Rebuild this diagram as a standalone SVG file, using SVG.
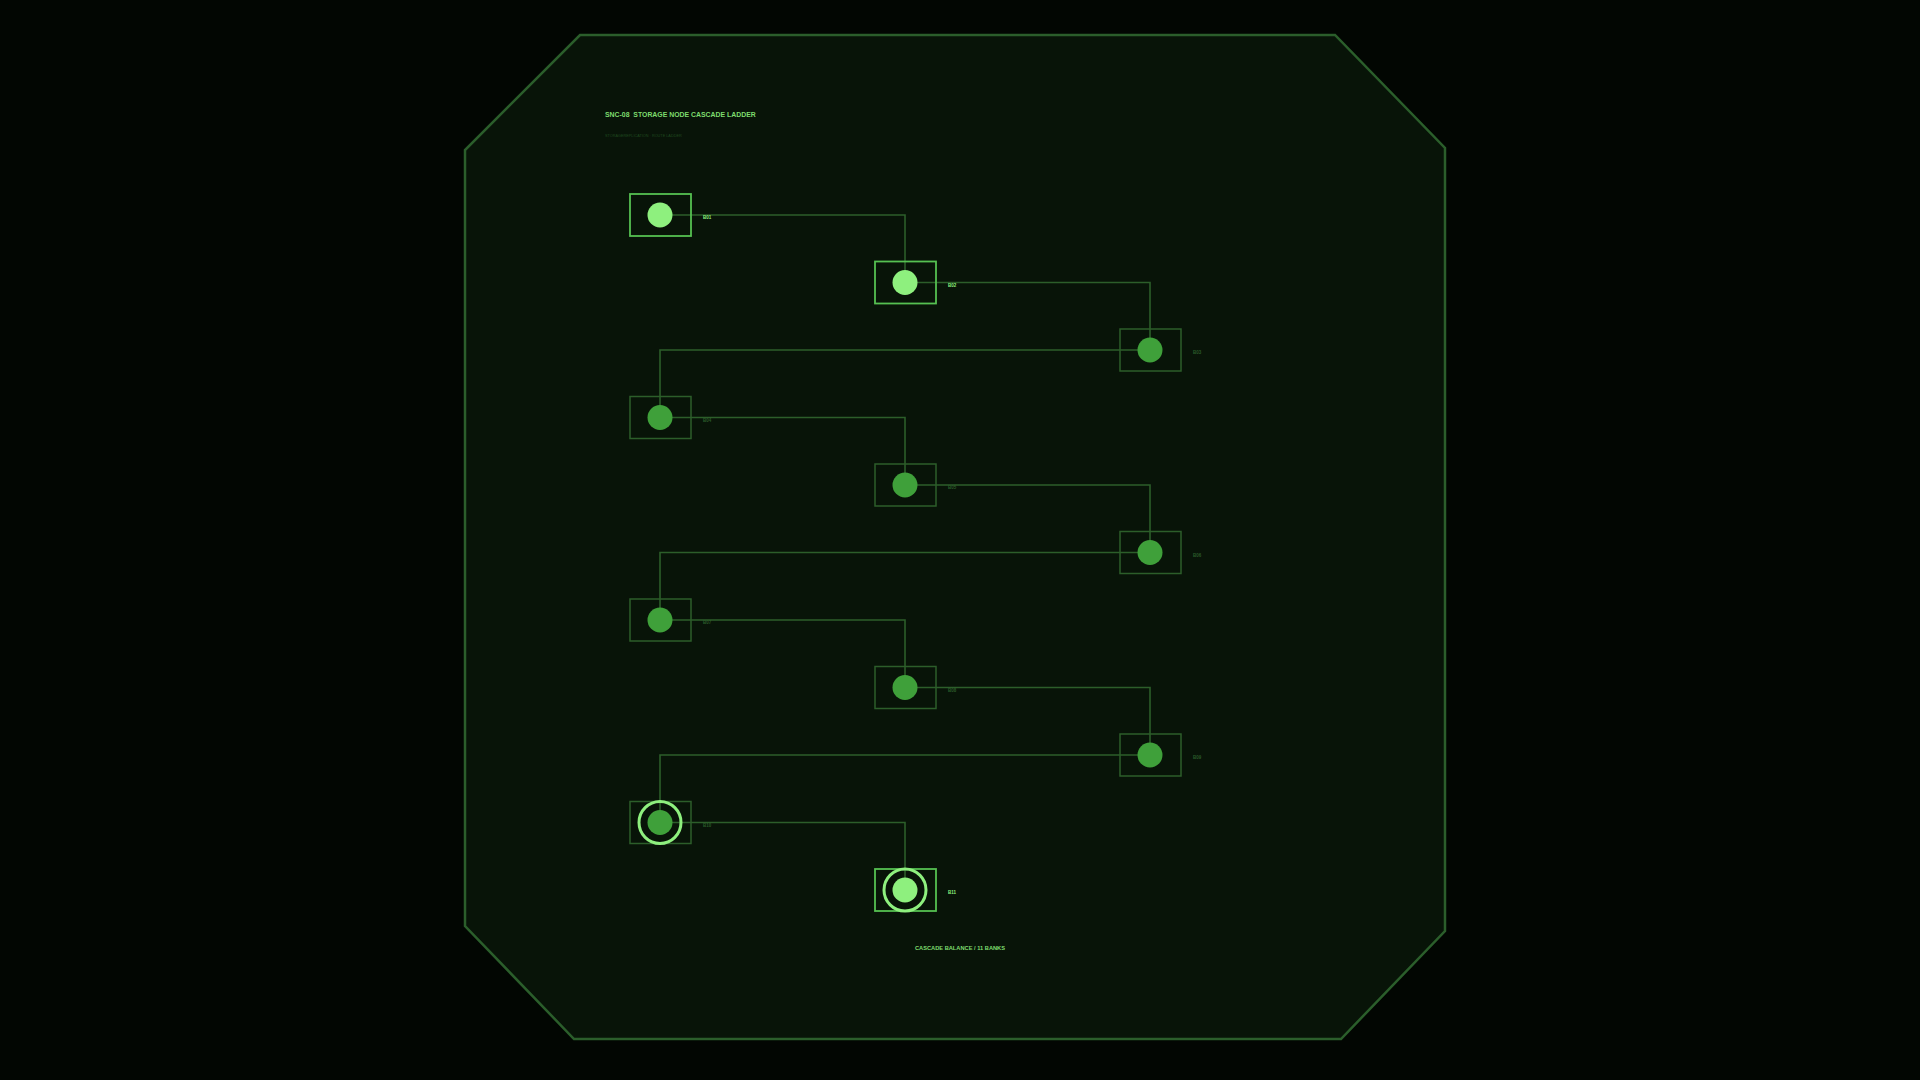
<svg xmlns="http://www.w3.org/2000/svg" width="1920" height="1080" viewBox="0 0 1920 1080">
<style>
.box{fill:none;stroke:#2c5e2a;stroke-width:1.5}
.box.on{stroke:#56c052;stroke-width:1.8}
.dot{fill:#3fa03a}
.dot.on{fill:#8ef07e}
.ring{fill:none;stroke:#8ef07e;stroke-width:3}
.lbl{font-family:"Liberation Sans",Arial,sans-serif;font-size:4.5px;font-weight:700;fill:#2a5a28}
.lbl.on{fill:#8ef07e}
.wire{fill:none;stroke:#2c5e2a;stroke-width:1.6}
.t{font-family:"Liberation Sans",Arial,sans-serif;font-weight:700;fill:#7edc6e}
</style>
<rect width="1920" height="1080" fill="#020602"/>
<polygon points="580,35 1335,35 1445,148 1445,931 1341,1039 574,1039 465,926 465,150" fill="#081408" stroke="#2b5e2b" stroke-width="2.5"/>
<text class="t" x="605" y="117" font-size="6.9" style="white-space:pre">SNC-08  STORAGE NODE CASCADE LADDER</text>
<text x="605" y="137" font-family="Liberation Sans,Arial,sans-serif" font-size="3.8" fill="#1f4a1f">STORAGEREPLICATION · ROUTE LADDER</text>
<g id="connectors">
<path class="wire" d="M660,215 H905 V282.5"/>
<path class="wire" d="M905,282.5 H1150 V350"/>
<path class="wire" d="M1150,350 H660 V417.5"/>
<path class="wire" d="M660,417.5 H905 V485"/>
<path class="wire" d="M905,485 H1150 V552.5"/>
<path class="wire" d="M1150,552.5 H660 V620"/>
<path class="wire" d="M660,620 H905 V687.5"/>
<path class="wire" d="M905,687.5 H1150 V755"/>
<path class="wire" d="M1150,755 H660 V822.5"/>
<path class="wire" d="M660,822.5 H905 V890"/>
</g>
<g id="node-b01"><rect class="box on" x="630" y="194" width="61" height="42"/><circle class="dot on" cx="660" cy="215" r="12.5"/><text class="lbl on" x="703" y="219">B01</text></g>
<g id="node-b02"><rect class="box on" x="875" y="261.5" width="61" height="42"/><circle class="dot on" cx="905" cy="282.5" r="12.5"/><text class="lbl on" x="948" y="286.5">B02</text></g>
<g id="node-b03"><rect class="box" x="1120" y="329" width="61" height="42"/><circle class="dot" cx="1150" cy="350" r="12.5"/><text class="lbl" x="1193" y="354">B03</text></g>
<g id="node-b04"><rect class="box" x="630" y="396.5" width="61" height="42"/><circle class="dot" cx="660" cy="417.5" r="12.5"/><text class="lbl" x="703" y="421.5">B04</text></g>
<g id="node-b05"><rect class="box" x="875" y="464" width="61" height="42"/><circle class="dot" cx="905" cy="485" r="12.5"/><text class="lbl" x="948" y="489">B05</text></g>
<g id="node-b06"><rect class="box" x="1120" y="531.5" width="61" height="42"/><circle class="dot" cx="1150" cy="552.5" r="12.5"/><text class="lbl" x="1193" y="556.5">B06</text></g>
<g id="node-b07"><rect class="box" x="630" y="599" width="61" height="42"/><circle class="dot" cx="660" cy="620" r="12.5"/><text class="lbl" x="703" y="624">B07</text></g>
<g id="node-b08"><rect class="box" x="875" y="666.5" width="61" height="42"/><circle class="dot" cx="905" cy="687.5" r="12.5"/><text class="lbl" x="948" y="691.5">B08</text></g>
<g id="node-b09"><rect class="box" x="1120" y="734" width="61" height="42"/><circle class="dot" cx="1150" cy="755" r="12.5"/><text class="lbl" x="1193" y="759">B09</text></g>
<g id="node-b10"><rect class="box" x="630" y="801.5" width="61" height="42"/><circle class="dot" cx="660" cy="822.5" r="12.5"/><circle class="ring" cx="660" cy="822.5" r="21"/><text class="lbl" x="703" y="826.5">B10</text></g>
<g id="node-b11"><rect class="box on" x="875" y="869" width="61" height="42"/><circle class="dot on" cx="905" cy="890" r="12.5"/><circle class="ring" cx="905" cy="890" r="21"/><text class="lbl on" x="948" y="894">B11</text></g>
<text class="t" x="960" y="950" font-size="5.7" text-anchor="middle">CASCADE BALANCE / 11 BANKS</text>
</svg>
